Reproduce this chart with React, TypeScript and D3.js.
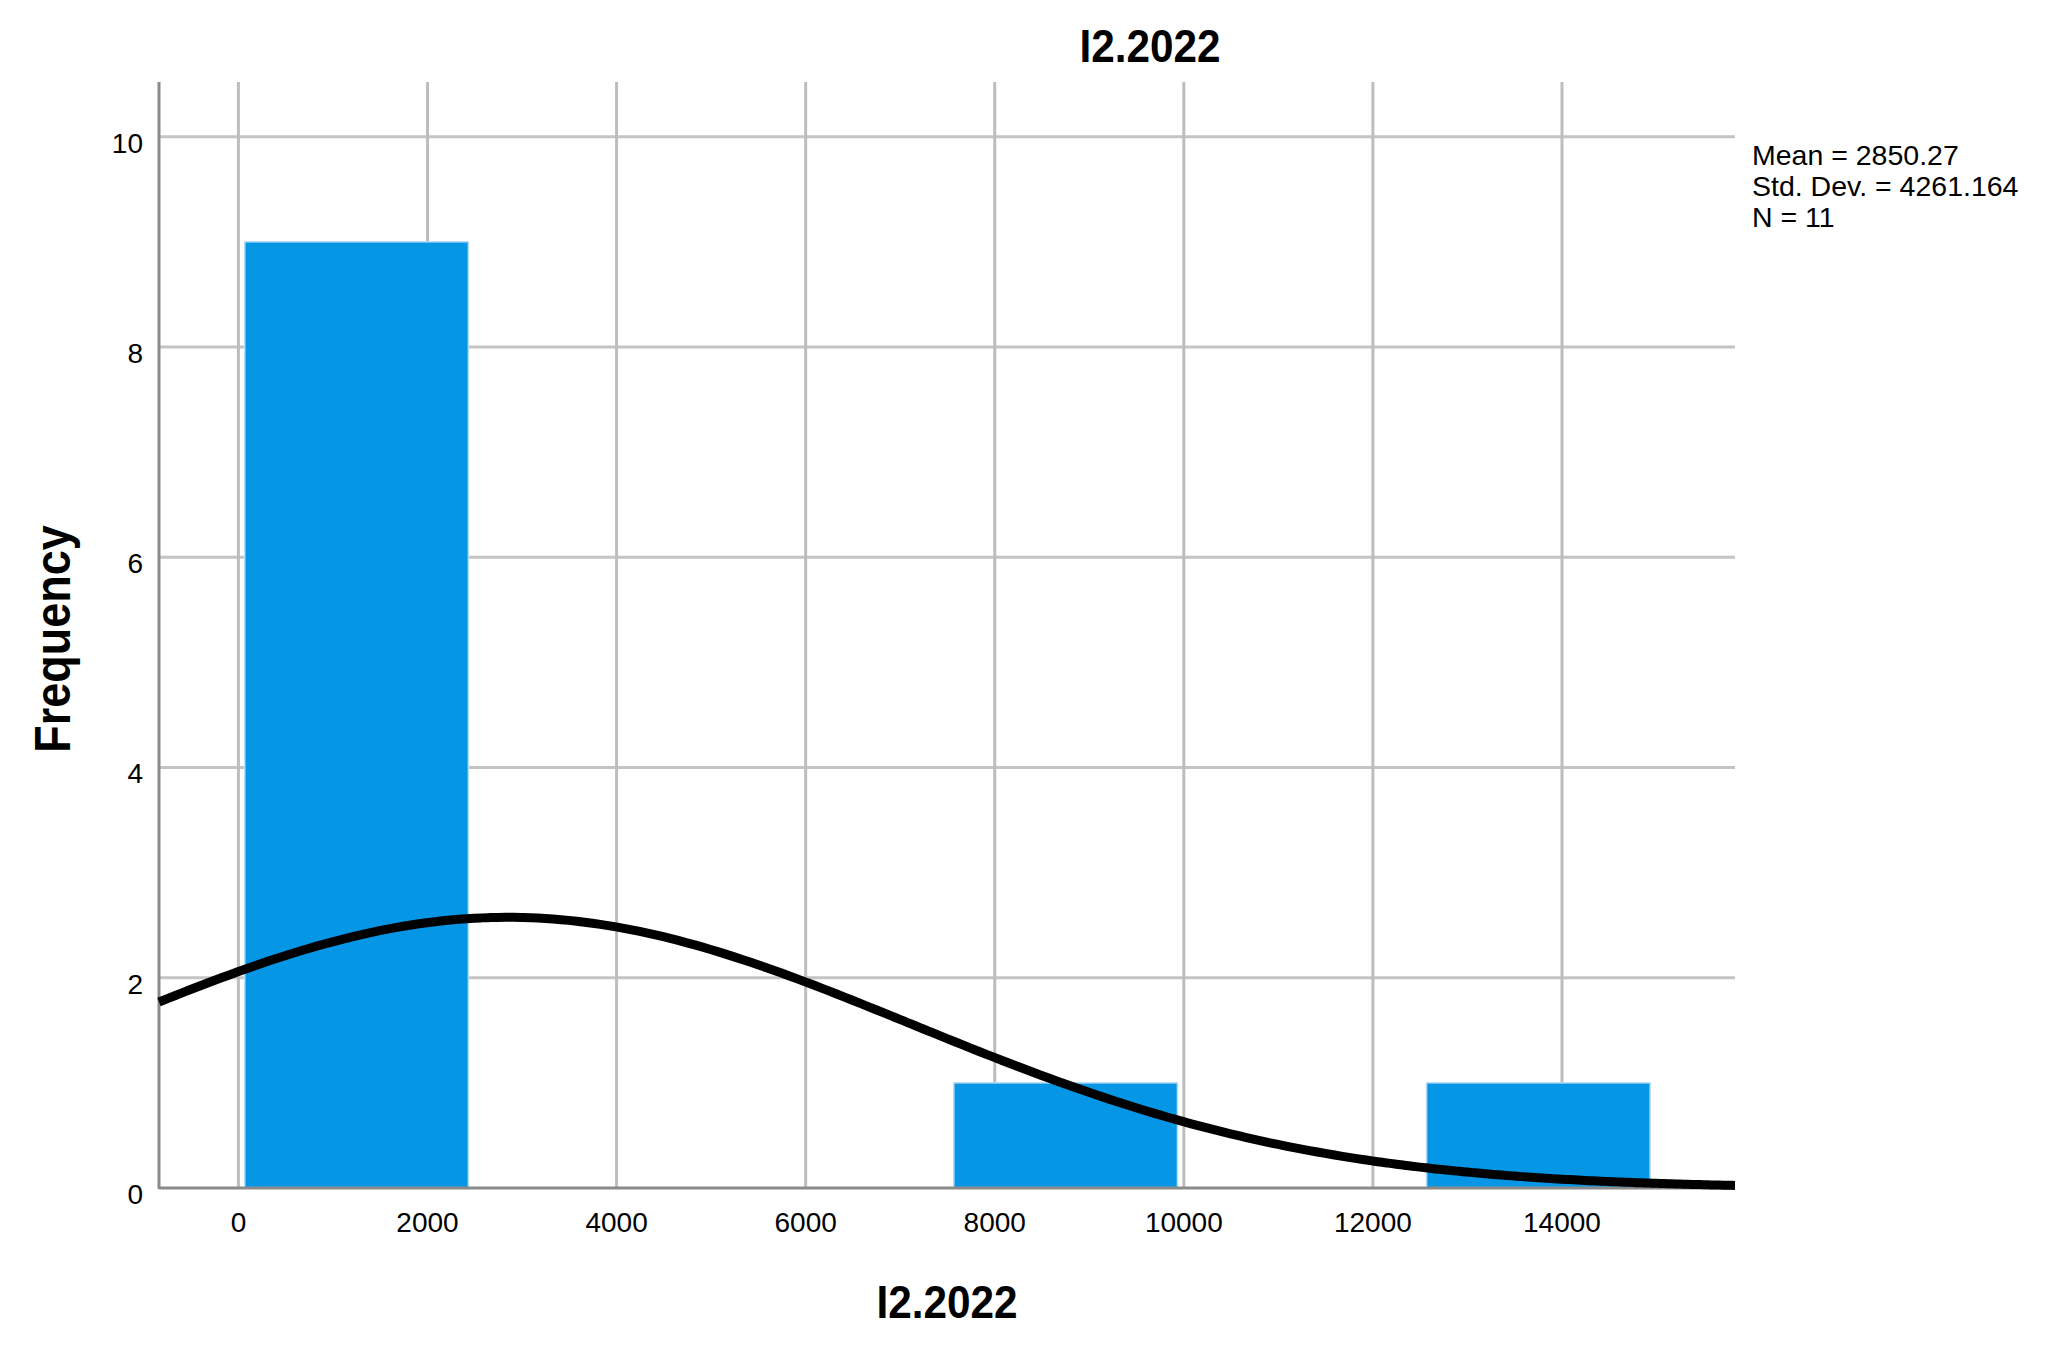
import * as d3 from 'd3';
import { useEffect, useRef } from 'react';

// histogram bins
const binStarts = [0, 7500, 12500];
const binCounts = [9, 1, 1];
const binWidth = 2500;

const xTicks = [0, 2000, 4000, 6000, 8000, 10000, 12000, 14000];
const yTicks = [0, 2, 4, 6, 8, 10];

const mean = 2850.27;
const stdDev = 4261.164;
const n = 11;
const statLines = ['Mean = 2850.27', 'Std. Dev. = 4261.164', 'N = 11'];

const title = 'I2.2022';
const xLabel = 'I2.2022';
const yLabel = 'Frequency';

export default function App() {
    const ref = useRef<SVGSVGElement>(null);

    const width = 2050,
        height = 1364;
    const plot = { left: 159, right: 1735, top: 82, bottom: 1188 };
    const font = '"Liberation Sans", Arial, sans-serif';

    useEffect(() => {
        const svg = d3.select(ref.current);
        svg.selectAll('*').remove();

        const x = d3.scaleLinear().domain([-840, 15830]).range([plot.left, plot.right]);
        const y = d3.scaleLinear().domain([0, 10.52]).range([plot.bottom, plot.top]);

        // grid
        svg.append('g')
            .selectAll('line')
            .data(yTicks.filter((d) => d > 0))
            .join('line')
            .attr('x1', plot.left)
            .attr('x2', plot.right)
            .attr('y1', (d) => y(d))
            .attr('y2', (d) => y(d))
            .attr('stroke', '#c4c4c4')
            .attr('stroke-width', 3);

        svg.append('g')
            .selectAll('line')
            .data(xTicks)
            .join('line')
            .attr('x1', (d) => x(d))
            .attr('x2', (d) => x(d))
            .attr('y1', plot.top)
            .attr('y2', plot.bottom)
            .attr('stroke', '#bdbdbd')
            .attr('stroke-width', 3);

        // bars
        const inset = binWidth * 0.027;
        svg.append('g')
            .selectAll('rect')
            .data(binStarts.map((s, i) => ({ s, c: binCounts[i] })))
            .join('rect')
            .attr('x', (d) => x(d.s + inset))
            .attr('width', (d) => x(d.s + binWidth - inset) - x(d.s + inset))
            .attr('y', (d) => y(d.c))
            .attr('height', (d) => y(0) - y(d.c))
            .attr('fill', '#0596e6')
            .attr('stroke', '#b8dcf6')
            .attr('stroke-width', 1.5);

        // axes
        svg.append('line')
            .attr('x1', plot.left)
            .attr('x2', plot.left)
            .attr('y1', plot.top)
            .attr('y2', plot.bottom + 1)
            .attr('stroke', '#8a8a8a')
            .attr('stroke-width', 3);
        svg.append('line')
            .attr('x1', plot.left)
            .attr('x2', plot.right)
            .attr('y1', plot.bottom)
            .attr('y2', plot.bottom)
            .attr('stroke', '#8a8a8a')
            .attr('stroke-width', 3);

        // normal curve from the stats shown
        const scale = (n * binWidth) / (stdDev * Math.sqrt(2 * Math.PI));
        const density = (v: number) => scale * Math.exp(-0.5 * ((v - mean) / stdDev) ** 2);
        const [x0, x1] = x.domain();
        const pts = d3.range(0, 201).map((i) => x0 + ((x1 - x0) * i) / 200);
        svg.append('path')
            .datum(pts)
            .attr(
                'd',
                d3
                    .line<number>()
                    .x((d) => x(d))
                    .y((d) => y(density(d)))
                    .curve(d3.curveMonotoneX),
            )
            .attr('fill', 'none')
            .attr('stroke', '#000')
            .attr('stroke-width', 9);

        // tick labels
        svg.append('g')
            .selectAll('text')
            .data(yTicks)
            .join('text')
            .attr('x', 143)
            .attr('y', (d) => y(d) + 16)
            .attr('text-anchor', 'end')
            .attr('font-family', font)
            .attr('font-size', 28)
            .text((d) => String(d));

        svg.append('g')
            .selectAll('text')
            .data(xTicks)
            .join('text')
            .attr('x', (d) => x(d))
            .attr('y', 1232)
            .attr('text-anchor', 'middle')
            .attr('font-family', font)
            .attr('font-size', 28)
            .text((d) => String(d));

        // titles
        svg.append('text')
            .attr('transform', 'translate(1150,62) scale(0.92,1)')
            .attr('text-anchor', 'middle')
            .attr('font-family', font)
            .attr('font-weight', 'bold')
            .attr('font-size', 46)
            .text(title);

        svg.append('text')
            .attr('transform', 'translate(947,1318) scale(0.92,1)')
            .attr('text-anchor', 'middle')
            .attr('font-family', font)
            .attr('font-weight', 'bold')
            .attr('font-size', 46)
            .text(xLabel);

        svg.append('text')
            .attr('transform', 'translate(70,639) rotate(-90) scale(1,1.1)')
            .attr('text-anchor', 'middle')
            .attr('font-family', font)
            .attr('font-weight', 'bold')
            .attr('font-size', 45)
            .text(yLabel);

        // stats box
        svg.append('g')
            .selectAll('text')
            .data(statLines)
            .join('text')
            .attr('x', 1752)
            .attr('y', (_, i) => 165 + i * 31)
            .attr('font-family', font)
            .attr('font-size', 28.5)
            .text((d) => d);
    }, []);

    return (
        <svg
            ref={ref}
            width={width}
            height={height}
            style={{ position: 'absolute', left: 0, top: 0, background: '#fff' }}
        />
    );
}
